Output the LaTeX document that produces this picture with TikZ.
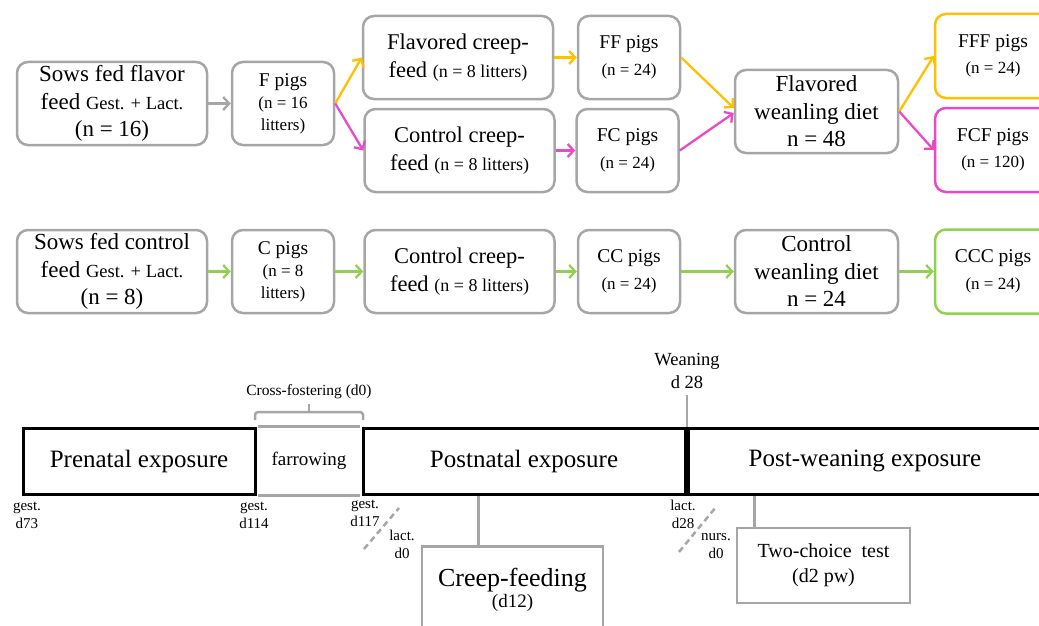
\documentclass[tikz,border=0pt]{standalone}
\usepackage{fontspec}
\setmainfont{Liberation Serif}
\usetikzlibrary{arrows.meta,calc}
\definecolor{boxgray}{HTML}{A6A6A6}
\definecolor{orng}{HTML}{FFC000}
\definecolor{mgnt}{HTML}{E84BC8}
\definecolor{grn}{HTML}{92D050}
\newcommand\FtBig{\fontsize{23}{27.5}\selectfont}
\newcommand\FtGL{\fontsize{18.5}{27.5}\selectfont}
\newcommand\FtPig{\fontsize{19.5}{22}\selectfont}
\newcommand\FtPigB{\fontsize{19.5}{26.5}\selectfont}
\newcommand\FtSml{\fontsize{17}{22}\selectfont}
\newcommand\FtCr{\fontsize{22.5}{28}\selectfont}
\newcommand\FtSmB{\fontsize{18}{28}\selectfont}
\newcommand\FtSeg{\fontsize{25}{30}\selectfont}
\newcommand\FtFar{\fontsize{19}{22}\selectfont}
\newcommand\FtCF{\fontsize{15.5}{18}\selectfont}
\newcommand\FtWean{\fontsize{18.5}{23}\selectfont}
\newcommand\FtLab{\fontsize{15}{18}\selectfont}
\begin{document}
\begin{tikzpicture}[x=1pt,y=-1pt,
  rbox/.style={draw=boxgray, line width=2.5pt, rounded corners=11pt, align=center, inner sep=1pt},
  gbox/.style={rbox, minimum width=190, minimum height=83},
  pbox/.style={rbox, minimum width=102, minimum height=83},
  wbox/.style={rbox, minimum width=163, minimum height=83},
  ebox/.style={rbox, minimum width=116, minimum height=84, font=\FtPigB},
  arr/.style={line width=2.3pt, -{Straight Barb[length=6pt,width=13pt]}},
  seg/.style={draw=black, line width=3pt, minimum height=66, inner sep=0pt, font=\FtSeg},
  gl/.style={draw=boxgray, line width=2.5pt},
  dl/.style={draw=boxgray, line width=2.5pt, dash pattern=on 6pt off 4pt},
  sq/.style={draw=boxgray, line width=2.5pt, align=center, inner sep=0pt},
  lab/.style={align=center, inner sep=0pt, font=\FtLab},
]
\useasboundingbox (0,0) rectangle (1039,626);
\clip (0,0) rectangle (1039,626);

% ---- top flow ----
\node[gbox, font=\FtBig] (sf) at (112,103.5) {Sows fed flavor\\feed {\FtGL Gest. + Lact.}\\(n = 16)};
\node[pbox, font=\FtPig] (fp) at (283,103.5) {F pigs\\{\FtSml (n = 16}\\{\FtSml litters)}};
\node[gbox, font=\FtBig] (sc) at (112,271.5) {Sows fed control\\feed {\FtGL Gest. + Lact.}\\(n = 8)};
\node[pbox, font=\FtPig] (cp) at (283,271.5) {C pigs\\{\FtSml (n = 8}\\{\FtSml litters)}};
\node[gbox, font=\FtCr] (fcr) at (458,57.5) {Flavored creep-\\feed {\FtSmB (n = 8 litters)}};
\node[gbox, font=\FtCr] (ccr) at (459.5,150.5) {Control creep-\\feed {\FtSmB (n = 8 litters)}};
\node[gbox, font=\FtCr] (ccr2) at (459.5,271.5) {Control creep-\\feed {\FtSmB (n = 8 litters)}};
\node[pbox, font=\FtPigB] (ff) at (629,57.5) {FF pigs\\{\FtSml (n = 24)}};
\node[pbox, font=\FtPigB] (fc) at (627.5,150.5) {FC pigs\\{\FtSml (n = 24)}};
\node[pbox, font=\FtPigB] (cc) at (629,271.5) {CC pigs\\{\FtSml (n = 24)}};
\node[wbox, font=\FtBig] (fw) at (816.5,111.5) {Flavored\\weanling diet\\n = 48};
\node[wbox, font=\FtBig] (cw) at (816.5,271.5) {Control\\weanling diet\\n = 24};
\node[ebox, draw=orng] (fff) at (993,56) {FFF pigs\\{\FtSml (n = 24)}};
\node[ebox, draw=mgnt] (fcf) at (993,150) {FCF pigs\\{\FtSml (n = 120)}};
\node[ebox, draw=grn] (ccc) at (993,271.5) {CCC pigs\\{\FtSml (n = 24)}};

\draw[arr, boxgray] (sf.east) -- (fp.west);
\draw[arr, orng] (fp.east) -- (fcr.west);
\draw[arr, mgnt] (fp.east) -- (ccr.west);
\draw[arr, orng] (fcr.east) -- (ff.west);
\draw[arr, mgnt] (ccr.east) -- (fc.west);
\draw[arr, orng] (ff.east) -- ([yshift=3.5pt]fw.west);
\draw[arr, mgnt] (fc.east) -- ([yshift=-1.5pt]fw.west);
\draw[arr, orng] (fw.east) -- (fff.west);
\draw[arr, mgnt] (fw.east) -- (fcf.west);
\draw[arr, grn] (sc.east) -- (cp.west);
\draw[arr, grn] (cp.east) -- (ccr2.west);
\draw[arr, grn] (ccr2.east) -- (cc.west);
\draw[arr, grn] (cc.east) -- (cw.west);
\draw[arr, grn] (cw.east) -- (ccc.west);

% ---- timeline ----
\node[seg, minimum width=232] (pre) at (139,461) {Prenatal exposure};
\node[seg, minimum width=322] (post) at (524,461) {Postnatal exposure};
\node[seg, minimum width=354] (pw) at (865,461) {Post-weaning exposure};
\node[font=\FtFar, inner sep=0pt] (farr) at (309,461) {farrowing};
\draw[gl, shorten <=1.5pt, shorten >=1.5pt] (pre.north east) -- (post.north west);
\draw[gl, shorten <=1.5pt, shorten >=1.5pt] (pre.south east) -- (post.south west);

% cross-fostering bracket
\coordinate (brL) at (255,420);
\coordinate (brR) at (363,420);
\coordinate (brT) at (309,412);
\draw[gl, rounded corners=3pt] (brL) -- ++(0,-8) -| (brR);
\draw[gl] (brT) -- ++(0,-8);
\node[font=\FtCF, inner sep=0pt] (cf0) at (309,392) {Cross-fostering (d0)};

% weaning
\node[align=center, font=\FtWean, inner sep=0pt] (wean) at (687,371) {Weaning\\d 28};
\coordinate (wtop) at (687,395);
\draw[gl] (wtop) -- (wtop |- pw.north);

% day labels
\node[lab] (g73) at (27,515) {gest.\\d73};
\node[lab] (g114) at (254,515) {gest.\\d114};
\node[lab] (g117) at (365,513) {gest.\\d117};
\node[lab] (l0) at (402,544) {lact.\\d0};
\node[lab] (l28) at (683,514) {lact.\\d28};
\node[lab] (n0) at (716,546) {nurs.\\d0};

\coordinate (da1) at (364,549);
\coordinate (da2) at (399,508);
\draw[dl] (da1) -- (da2);
\coordinate (db1) at (679,552);
\coordinate (db2) at (716,507);
\draw[dl] (db1) -- (db2);

% creep-feeding
\node[sq, minimum width=181, minimum height=87, anchor=north, font=\fontsize{26}{21}\selectfont] (cfd) at (512.5,545) {Creep-feeding\\{\fontsize{19}{21}\selectfont (d12)}};
\path (post.south west) ++(117,0) coordinate (cfx);
\draw[gl] (cfx) -- (cfx |- cfd.north);

% two-choice test
\node[sq, minimum width=173, minimum height=75, font=\fontsize{20}{25}\selectfont] (tc) at (823.5,565.5) {Two-choice\ \ test\\(d2 pw)};
\path (pw.south west) ++(68,0) coordinate (tcx);
\draw[gl] (tcx) -- (tcx |- tc.north);
\end{tikzpicture}
\end{document}
